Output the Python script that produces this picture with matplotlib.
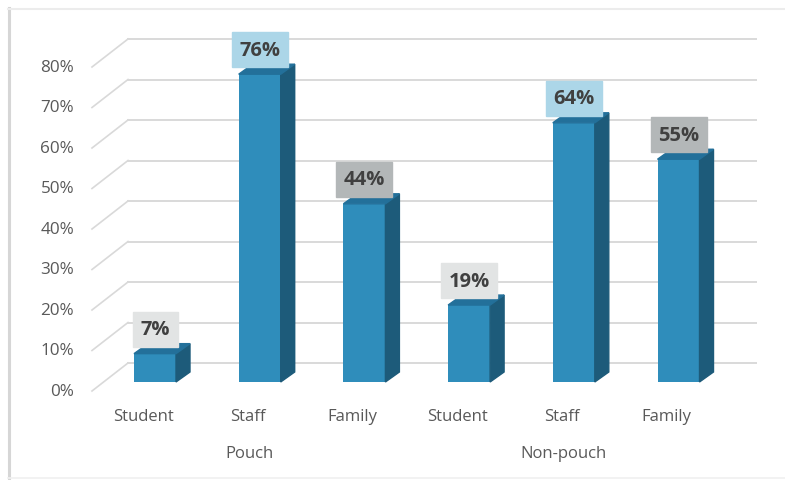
import numpy as np
import matplotlib
matplotlib.use('Agg')
import matplotlib.pyplot as plt
from matplotlib.patches import Polygon, Rectangle

# data
roles = ['Student', 'Staff', 'Family', 'Student', 'Staff', 'Family']
groups = ['Pouch', 'Non-pouch']
values = [7, 76, 44, 19, 64, 55]
box_colors = ['#e2e4e4', '#acd6e8', '#b3b7b8', '#e2e4e4', '#acd6e8', '#b3b7b8']
yticks = [0, 10, 20, 30, 40, 50, 60, 70, 80]

plt.rcParams['font.family'] = ['Open Sans', 'DejaVu Sans']

W, H = 785, 481
fig = plt.figure(figsize=(W / 100, H / 100), dpi=100)
ax = fig.add_axes([0, 0, 1, 1])

# pixel scale: 104.7 px per category, 4.05 px per percent
px_x = 104.7
px_y = 4.05
x0_px, base_px = 155, 383
ax.set_xlim(-x0_px / px_x, (W - x0_px) / px_x)
ax.set_ylim(-(H - base_px) / px_y, base_px / px_y)
ax.axis('off')

def dx(p):
    return p / px_x

def dy(p):
    return p / px_y

x = np.arange(len(values))
bw = dx(42)
ddx, ddy = dx(14), dy(10)

# back wall gridlines and side wall diagonals
grid_c = '#d9d9d9'
back_x0, back_x1 = dx(128 - x0_px), dx(756 - x0_px)
front_x = dx(92 - x0_px)
for t in yticks:
    yb = t + dy(19)
    yf = t - dy(9)
    ax.plot([back_x0, back_x1], [yb, yb], color=grid_c, lw=1.4, zorder=1)
    ax.plot([front_x, back_x0], [yf, yb], color=grid_c, lw=1.2, zorder=1)
    ax.text(dx(74 - x0_px), yf, f'{t}%', ha='right', va='center',
            fontsize=12.3, color='#595959')

# 3D-ish columns
front_c, side_c, top_c = '#2f8dbb', '#1d5b7a', '#23709a'
ax.bar(x, values, width=bw, color=front_c, zorder=3)
for xi, v in zip(x, values):
    l, r = xi - bw / 2, xi + bw / 2
    ax.add_patch(Polygon([(r, 0), (r + ddx, ddy), (r + ddx, v + ddy), (r, v)],
                         closed=True, color=side_c, zorder=3))
    ax.add_patch(Polygon([(l, v), (l + ddx, v + ddy), (r + ddx, v + ddy), (r, v)],
                         closed=True, color=top_c, zorder=3))

# data labels in boxes
for xi, v, bc in zip(x, values, box_colors):
    bwid = dx(56) if v >= 10 else dx(45)
    ax.add_patch(Rectangle((xi - bwid / 2, v + dy(7)), bwid, dy(35),
                           color=bc, zorder=4))
    ax.text(xi, v + dy(24.5), f'{v}%', ha='center', va='center', fontsize=14.5,
            fontweight='bold', color='#404040', zorder=5)

# category labels
for xi, r in zip(x, roles):
    ax.text(xi - dx(12), -dy(34), r, ha='center', va='center',
            fontsize=12, color='#595959')
for gi, g in enumerate(groups):
    ax.text(1 + 3 * gi - dx(10), -dy(71), g, ha='center', va='center',
            fontsize=12, color='#595959')

# chart frame
fig.add_artist(plt.Line2D([8.5 / W, 8.5 / W], [1 - 9 / H, 1 - 479 / H],
                          color='#d6d6d6', lw=2.2))
fig.add_artist(plt.Line2D([8 / W, 1], [1 - 9.5 / H, 1 - 9.5 / H],
                          color='#ececec', lw=1.5))
fig.add_artist(plt.Line2D([8 / W, 1], [1 - 479 / H, 1 - 479 / H],
                          color='#f0f0f0', lw=1.2))

fig.savefig('out.png', dpi=100)
